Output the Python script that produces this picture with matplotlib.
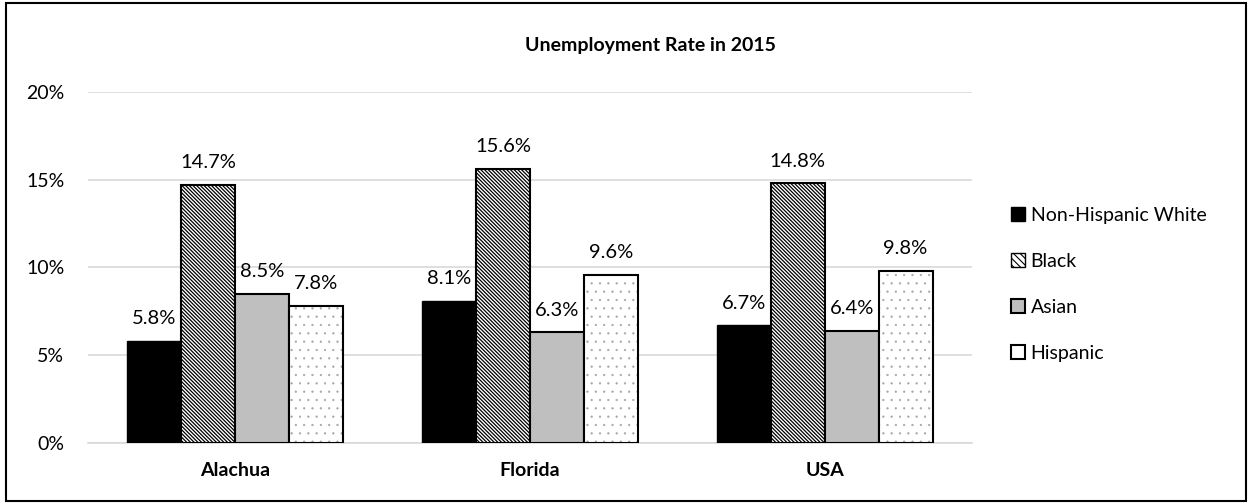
import numpy as np
import matplotlib
matplotlib.use("Agg")
import matplotlib.pyplot as plt
from matplotlib.patches import Rectangle
from matplotlib.ticker import PercentFormatter

plt.rcParams["font.family"] = ["Lato", "DejaVu Sans"]
plt.rcParams["hatch.linewidth"] = 1.0

# data
regions = ["Alachua", "Florida", "USA"]
groups = ["Non-Hispanic White", "Black", "Asian", "Hispanic"]
non_hispanic_white = [5.8, 8.1, 6.7]
black = [14.7, 15.6, 14.8]
asian = [8.5, 6.3, 6.4]
hispanic = [7.8, 9.6, 9.8]

series_values = [non_hispanic_white, black, asian, hispanic]

fig = plt.figure(figsize=(12.5, 5.04), dpi=100)
ax = fig.add_axes([0.0704, 0.121, 0.7072, 0.6965])

x_positions = np.arange(len(regions))
bar_width = 0.183
offsets = (np.arange(len(groups)) - 1.5) * bar_width

for series_index, values in enumerate(series_values):
    positions = x_positions + offsets[series_index]
    if series_index == 0:
        ax.bar(positions, values, bar_width, color="black", edgecolor="black",
               linewidth=1.0, zorder=3)
    elif series_index == 1:
        plt.rcParams["hatch.linewidth"] = 0.9
        ax.bar(positions, values, bar_width, color="white", edgecolor="black",
               hatch="\\" * 9, linewidth=1.5, zorder=3)
    elif series_index == 2:
        ax.bar(positions, values, bar_width, color="#BFBFBF", edgecolor="black",
               linewidth=1.5, zorder=3)
    else:
        # small light dots, then a black outline on top
        plt.rcParams["hatch.linewidth"] = 0.4
        ax.bar(positions, values, bar_width, color="white", edgecolor="#A6A6A6",
               hatch="..", linewidth=0, zorder=3)
        plt.rcParams["hatch.linewidth"] = 1.0
        ax.bar(positions, values, bar_width, fill=False, edgecolor="black",
               linewidth=1.5, zorder=4)
    for bar_x, bar_value in zip(positions, values):
        ax.annotate(f"{bar_value:.1f}%", (bar_x, bar_value), xytext=(0, 16),
                    textcoords="offset points", ha="center", va="center",
                    fontsize=14.5, zorder=5)

plt.rcParams["hatch.linewidth"] = 0.8
legend_patches = [
    Rectangle((0, 0), 1, 1, facecolor="black", edgecolor="black"),
    Rectangle((0, 0), 1, 1, facecolor="white", edgecolor="black", hatch="\\" * 5),
    Rectangle((0, 0), 1, 1, facecolor="#BFBFBF", edgecolor="black", linewidth=1.5),
    Rectangle((0, 0), 1, 1, facecolor="white", edgecolor="black", linewidth=1.5),
]
fig.legend(legend_patches, groups, loc="center left", bbox_to_anchor=(0.795, 0.436),
           frameon=False, fontsize=14, handlelength=0.7, handleheight=0.7,
           handletextpad=0.3, labelspacing=1.5)

ax.set_xlim(-0.5, 2.5)
ax.set_ylim(0, 20)
ax.set_yticks([0, 5, 10, 15, 20])
ax.yaxis.set_major_formatter(PercentFormatter(decimals=0))
ax.set_xticks(x_positions)
ax.set_xticklabels(regions, fontweight="bold", fontsize=14)
ax.tick_params(axis="y", length=0, pad=17, labelsize=14)
ax.tick_params(axis="x", length=0, pad=14)
ax.grid(axis="y", color="#D9D9D9", linewidth=1.2, zorder=0)
for side in ["left", "right", "top"]:
    ax.spines[side].set_visible(False)
ax.spines["bottom"].set_color("#D9D9D9")
ax.spines["bottom"].set_linewidth(1.2)

fig.text(0.52, 0.91, "Unemployment Rate in 2015", ha="center", va="center",
         fontsize=14, fontweight="bold")

fig.add_artist(Rectangle((0.005, 0.005), 0.992, 0.989, transform=fig.transFigure,
                         fill=False, edgecolor="black", linewidth=1.5))

fig.savefig("out.png", dpi=100)
